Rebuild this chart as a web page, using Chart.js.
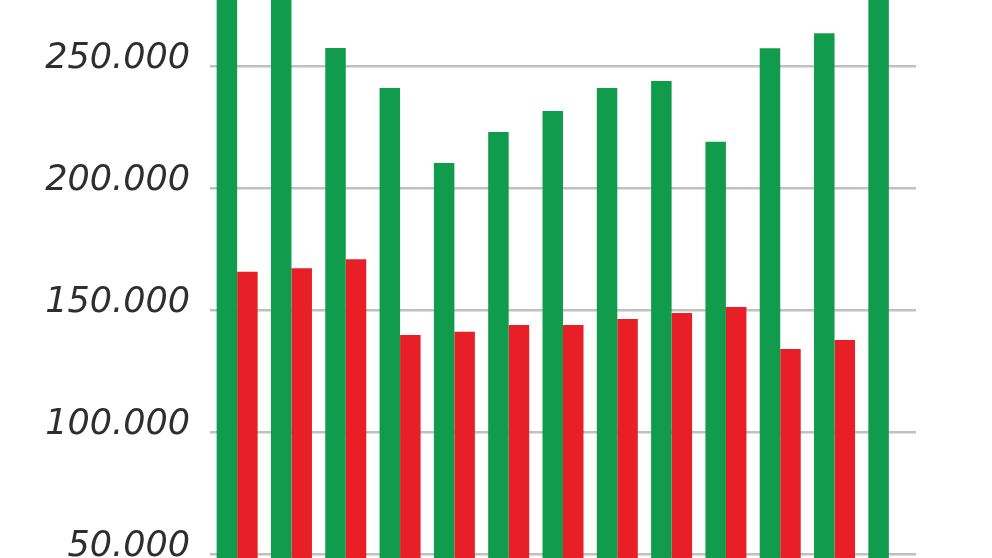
<!DOCTYPE html>
<html>
<head>
<meta charset="utf-8">
<script src="https://cdn.jsdelivr.net/npm/chart.js@4"></script>
<style>
  html, body { margin: 0; padding: 0; background: #ffffff; }
  #wrap { width: 992px; height: 558px; position: relative; }
</style>
</head>
<body>
<div id="wrap"><canvas id="c" width="992" height="558"></canvas></div>
<script>
// Categories (not labelled in the visible crop)
const categories = ['1','2','3','4','5','6','7','8','9','10','11','12','13'];
// Green series (values above the visible top are estimates)
const greenValues = [290000, 295000, 257400, 241000, 210200, 223000, 231600, 241000, 243900, 219000, 257300, 263400, 285000];
// Red series (last category has no red bar)
const redValues = [165700, 167100, 170800, 139800, 141100, 143900, 143900, 146300, 148800, 151200, 134000, 137700, null];
// Y tick values shown
const yTickValues = [50000, 100000, 150000, 200000, 250000];
// Visible value window of the crop
const yMin = 48360;
const yMax = 277050;

new Chart(document.getElementById('c'), {
  type: 'bar',
  data: {
    labels: categories,
    datasets: [
      { data: greenValues, backgroundColor: '#109c4c', borderWidth: 0, barPercentage: 1.0, categoryPercentage: 0.755 },
      { data: redValues, backgroundColor: '#e91f28', borderWidth: 0, barPercentage: 1.0, categoryPercentage: 0.755 }
    ]
  },
  options: {
    responsive: false,
    animation: false,
    layout: { padding: { left: 0, right: 76, top: 0, bottom: 0 } },
    plugins: { legend: { display: false }, tooltip: { enabled: false } },
    scales: {
      x: { display: false },
      y: {
        min: yMin,
        max: yMax,
        afterBuildTicks: (axis) => { axis.ticks = yTickValues.map(v => ({ value: v })); },
        afterFit: (axis) => { axis.width = 210; axis.paddingTop = 0; axis.paddingBottom = 0; },
        border: { display: false },
        grid: { color: '#c0c0c0', lineWidth: 2.5, drawTicks: false },
        ticks: {
          padding: 20,
          labelOffset: -7,
          color: '#2e2e2e',
          font: { family: 'DejaVu Sans', size: 35, style: 'italic' },
          callback: (v) => v.toLocaleString('de-DE')
        }
      }
    }
  }
});
</script>
</body>
</html>
